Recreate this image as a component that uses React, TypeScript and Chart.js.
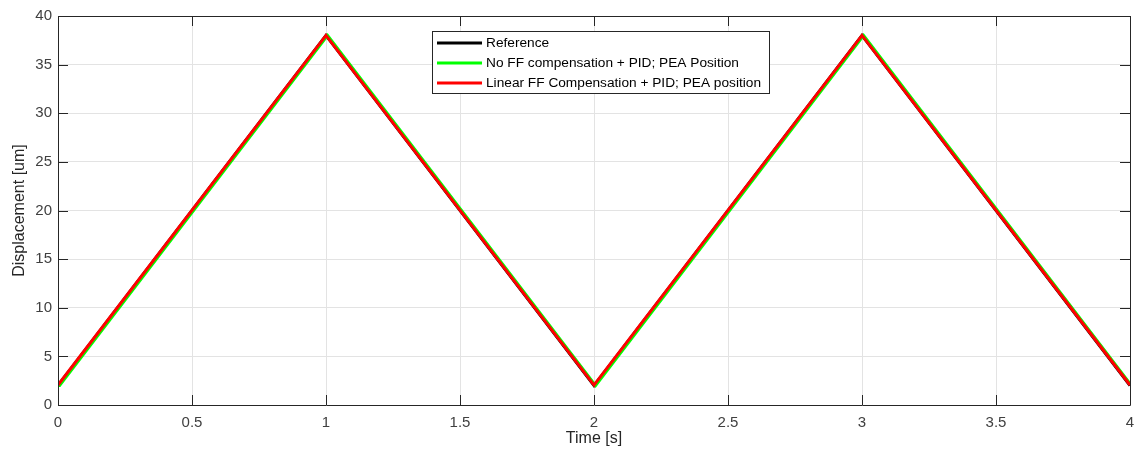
import React, { useEffect, useRef } from "react";
import { Chart, registerables } from "chart.js";

Chart.register(...registerables);

// ---- data ----
const refTime = [0, 1, 2, 3, 4];
const refDisp = [2, 38, 2, 38, 2];
const noFFTime = [0, 0.006, 1.006, 2.006, 3.006, 4];
const noFFDisp = [2.0, 2.0, 38, 2, 38, 2.2];
const linFFTime = [0, 1, 2, 3, 4];
const linFFDisp = [2.05, 38, 2.05, 38, 2.05];

const xTickValues = [0, 0.5, 1, 1.5, 2, 2.5, 3, 3.5, 4];
const xTickLabels = ["0", "0.5", "1", "1.5", "2", "2.5", "3", "3.5", "4"];
const yTickValues = [0, 5, 10, 15, 20, 25, 30, 35, 40];
const yTickLabels = ["0", "5", "10", "15", "20", "25", "30", "35", "40"];

const seriesLabels = [
  "Reference",
  "No FF compensation + PID; PEA Position",
  "Linear FF Compensation + PID; PEA position",
];
const seriesColors = ["#000000", "#00ff00", "#ff0000"];

const toPoints = (xs: number[], ys: number[]) => xs.map((x, i) => ({ x, y: ys[i] }));

const FONT = "'Liberation Sans', Arial, Helvetica, sans-serif";
const AXIS_COLOR = "#262626";
const TEXT_COLOR = "#404040";

const boxPlugin = {
  id: "matlabBox",
  afterDatasetsDraw(chart: any) {
    const { ctx, chartArea } = chart;
    const { left, right, top, bottom } = chartArea;
    const xs = chart.scales.x;
    const ys = chart.scales.y;
    ctx.save();
    ctx.strokeStyle = AXIS_COLOR;
    ctx.lineWidth = 1;
    ctx.beginPath();
    ctx.rect(Math.round(left) + 0.5, Math.round(top) + 0.5, Math.round(right - left), Math.round(bottom - top));
    ctx.stroke();
    const tl = 10;
    ctx.beginPath();
    for (const v of xTickValues) {
      const px = Math.round(xs.getPixelForValue(v)) + 0.5;
      ctx.moveTo(px, bottom);
      ctx.lineTo(px, bottom - tl);
      ctx.moveTo(px, top);
      ctx.lineTo(px, top + tl);
    }
    for (const v of yTickValues) {
      const py = Math.round(ys.getPixelForValue(v)) + 0.5;
      ctx.moveTo(left, py);
      ctx.lineTo(left + tl, py);
      ctx.moveTo(right, py);
      ctx.lineTo(right - tl, py);
    }
    ctx.stroke();
    ctx.restore();
  },
  afterDraw(chart: any) {
    const { ctx } = chart;
    ctx.save();
    const bx = 432.5, by = 31.5, bw = 337, bh = 62;
    ctx.fillStyle = "#ffffff";
    ctx.fillRect(bx, by, bw, bh);
    ctx.strokeStyle = "#262626";
    ctx.lineWidth = 1;
    ctx.strokeRect(bx, by, bw, bh);
    ctx.font = `13.7px ${FONT}`;
    ctx.textBaseline = "middle";
    ctx.textAlign = "left";
    seriesLabels.forEach((lab, i) => {
      const cy = 43 + i * 20;
      ctx.strokeStyle = seriesColors[i];
      ctx.lineWidth = 3;
      ctx.beginPath();
      ctx.moveTo(437, cy);
      ctx.lineTo(482, cy);
      ctx.stroke();
      ctx.fillStyle = "#000000";
      ctx.fillText(lab, 486, cy);
    });
    ctx.restore();
  },
};

export default function App() {
  const ref = useRef<HTMLCanvasElement | null>(null);
  useEffect(() => {
    document.body.style.margin = "0";
    if (!ref.current) return;
    const chart = new Chart(ref.current, {
      type: "line",
      data: {
        datasets: [
          { label: seriesLabels[0], data: toPoints(refTime, refDisp), borderColor: seriesColors[0], borderWidth: 3, pointRadius: 0, order: 3 },
          { label: seriesLabels[1], data: toPoints(noFFTime, noFFDisp), borderColor: seriesColors[1], borderWidth: 3, pointRadius: 0, order: 2 },
          { label: seriesLabels[2], data: toPoints(linFFTime, linFFDisp), borderColor: seriesColors[2], borderWidth: 3, pointRadius: 0, order: 1 },
        ],
      },
      options: {
        responsive: false,
        animation: false,
        layout: { padding: { left: 0, right: 4, top: 16, bottom: 0 } },
        plugins: { legend: { display: false }, tooltip: { enabled: false } },
        elements: { line: { tension: 0, borderCapStyle: "butt", borderJoinStyle: "miter" } },
        scales: {
          x: {
            type: "linear",
            min: 0,
            max: 4,
            afterFit: (s: any) => { s.height = 52; s.paddingLeft = 0; s.paddingRight = 0; },
            afterBuildTicks: (s: any) => { s.ticks = xTickValues.map((v) => ({ value: v })); },
            ticks: {
              autoSkip: false,
              maxRotation: 0,
              padding: 9,
              color: TEXT_COLOR,
              font: { family: FONT, size: 15 },
              callback: (v: any) => { const i = xTickValues.indexOf(Number(v)); return i >= 0 ? xTickLabels[i] : ""; },
            },
            grid: { color: "#e3e3e3", drawTicks: false },
            border: { display: false },
            title: { display: true, text: "Time [s]", color: "#262626", font: { family: FONT, size: 16 }, padding: { top: 0, bottom: 9 } },
          },
          y: {
            type: "linear",
            min: 0,
            max: 40,
            afterFit: (s: any) => { s.width = 58; s.paddingTop = 0; s.paddingBottom = 0; },
            afterBuildTicks: (s: any) => { s.ticks = yTickValues.map((v) => ({ value: v })); },
            ticks: {
              autoSkip: false,
              padding: 6,
              color: TEXT_COLOR,
              font: { family: FONT, size: 15 },
              callback: (v: any) => { const i = yTickValues.indexOf(Number(v)); return i >= 0 ? yTickLabels[i] : ""; },
            },
            grid: { color: "#e3e3e3", drawTicks: false },
            border: { display: false },
            title: { display: true, text: "Displacement [um]", color: "#262626", font: { family: FONT, size: 16 }, padding: { top: 10, bottom: 0 } },
          },
        },
      },
      plugins: [boxPlugin],
    } as any);
    return () => chart.destroy();
  }, []);
  return (
    <div style={{ width: 1134, height: 457 }}>
      <canvas ref={ref} width={1134} height={457} style={{ display: "block" }} />
    </div>
  );
}
